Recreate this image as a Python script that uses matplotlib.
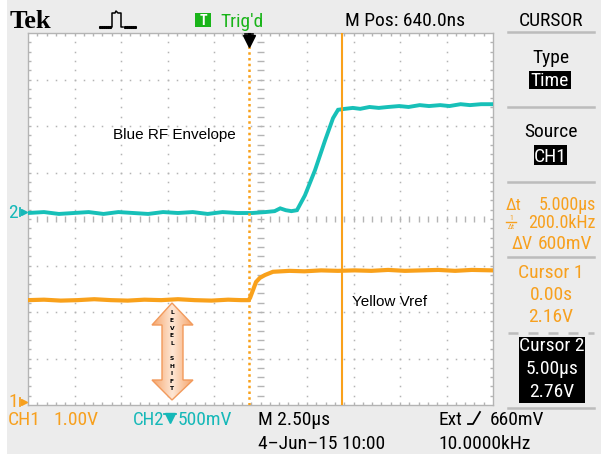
import numpy as np
import matplotlib
matplotlib.use('Agg')
import matplotlib.pyplot as plt
from matplotlib.patches import Rectangle, Polygon
from matplotlib.colors import LinearSegmentedColormap

# scope settings
SEC_DIV = 2.5          # us / div
MPOS = 0.64            # us, horizontal position of screen centre after trigger
CH1_VDIV = 1.0
CH2_VDIV = 0.5
CH1_GND = -3.935       # ground marker, divisions from centre
CH2_GND = 0.129
CURSOR_T = [0.0, 5.0]  # us

# CH2 (cyan, RF envelope), time in us, volts
ch2_t = [-11.86, -11.0, -10.2, -9.4, -8.6, -7.8, -7.0, -6.2, -5.4, -4.6, -3.8, -3.0,
         -2.2, -1.4, -0.6, 0.2, 0.9, 1.4, 1.7, 2.0, 2.3, 2.6, 3.03, 3.57, 4.11, 4.54,
         4.81, 5.18, 5.6, 6.0, 6.5, 7.0, 7.5, 8.1, 8.6, 9.2, 9.7, 10.3, 10.8, 11.4,
         11.9, 12.5, 13.14]
ch2_v = [0.00, 0.01, -0.01, 0.00, 0.01, -0.01, 0.01, 0.00, -0.01, 0.01, 0.00, 0.01,
         -0.01, 0.01, 0.00, 0.00, 0.01, 0.02, 0.05, 0.03, 0.02, 0.03, 0.19, 0.46, 0.78,
         1.02, 1.11, 1.12, 1.13, 1.12, 1.14, 1.13, 1.14, 1.15, 1.14, 1.16, 1.15, 1.16,
         1.15, 1.17, 1.16, 1.17, 1.17]

# CH1 (orange, Vref)
ch1_t = [-11.86, -11.0, -10.1, -9.2, -8.3, -7.4, -6.5, -5.6, -4.7, -3.8, -2.9, -2.0,
         -1.1, -0.4, 0.0, 0.08, 0.24, 0.40, 0.61, 0.88, 1.31, 2.2, 3.0, 3.9, 4.8, 5.7,
         6.6, 7.5, 8.4, 9.3, 10.2, 11.1, 12.0, 13.14]
ch1_v = [2.19, 2.20, 2.18, 2.19, 2.21, 2.19, 2.18, 2.20, 2.19, 2.21, 2.19, 2.18, 2.20,
         2.19, 2.19, 2.24, 2.41, 2.58, 2.67, 2.73, 2.80, 2.82, 2.81, 2.83, 2.82, 2.83,
         2.82, 2.84, 2.82, 2.83, 2.84, 2.82, 2.84, 2.83]

CYAN = "#17c0b8"
ORANGE = "#f9a11b"
TXT_OR = "#f7a01e"
TXT_CY = "#16b8b8"
GREEN = "#19b419"
GRID = "#b4b4b4"
BG = "#ececec"
SC = ['Roboto Condensed', 'Liberation Sans', 'DejaVu Sans']
FS = 14

t_left = MPOS - 5 * SEC_DIV


def tx(t):
    return (np.asarray(t) - t_left) / SEC_DIV


fig = plt.figure(figsize=(6.01, 4.54), dpi=100, facecolor=BG)

# graticule
g = fig.add_axes([28 / 601, (454 - 405) / 454, 465 / 601, 372 / 454], zorder=1)
g.set_facecolor('white')
g.set_xlim(0, 10)
g.set_ylim(-4, 4)
g.set_xticks([])
g.set_yticks([])
for s in g.spines.values():
    s.set_color(GRID)
    s.set_linewidth(1.0)

fine_x = np.arange(1, 50) * 0.2
fine_y = -4 + np.arange(1, 40) * 0.2
for k in range(1, 10):
    if k == 5:
        continue
    g.plot(np.full_like(fine_y, k), fine_y, ls='none', marker='s', ms=1.1, color=GRID, mew=0)
for k in range(-3, 4):
    if k == 0:
        continue
    g.plot(fine_x, np.full_like(fine_x, k), ls='none', marker='s', ms=1.1, color=GRID, mew=0)
tk = 0.075
g.vlines(fine_x, -tk, tk, color=GRID, lw=1)
g.hlines(fine_y, 5 - tk, 5 + tk, color=GRID, lw=1)
g.vlines(fine_x, 4 - tk, 4, color=GRID, lw=1)
g.vlines(fine_x, -4, -4 + tk, color=GRID, lw=1)
g.hlines(fine_y, 0, tk, color=GRID, lw=1)
g.hlines(fine_y, 10 - tk, 10, color=GRID, lw=1)

# traces
g.plot(tx(ch2_t), np.asarray(ch2_v) / CH2_VDIV + CH2_GND, color=CYAN, lw=2.8,
       solid_joinstyle='miter', zorder=3)
g.plot(tx(ch1_t), np.asarray(ch1_v) / CH1_VDIV + CH1_GND, color=ORANGE, lw=3.0,
       solid_joinstyle='miter', zorder=3)

# cursors
g.axvline(tx(CURSOR_T[0]), color=ORANGE, lw=1.8, ls=(0, (1, 1.3)), zorder=4)
g.axvline(tx(CURSOR_T[1]), color=ORANGE, lw=1.5, zorder=4)

# overlay in pixel coordinates
ov = fig.add_axes([0, 0, 1, 1], zorder=3)
ov.patch.set_alpha(0)
ov.axis('off')

ov.add_patch(Rectangle((0, 0), 7, 454, facecolor='white', edgecolor='none', zorder=0))

# trigger marker
ov.plot([249, 249], [34, 39], color='black', lw=2.2)
ov.plot([245, 253], [34, 34], color='black', lw=1.2)
ov.plot([249], [41], marker='v', ms=8, color='black')

# top bar
ov.text(10, 28, "Tek", fontsize=19, fontweight='bold', family='Liberation Serif',
        ha='left', va='baseline')
ov.plot([100, 102, 104, 106, 108, 110], [27] * 6, ls='none', marker='s', ms=1.2, color='black')
ov.plot([111, 112, 112, 115, 116, 118, 121, 121, 123],
        [27, 27, 13, 13, 11, 13, 13, 27, 27], color='black', lw=1.1)
ov.plot([125, 127, 129, 131, 133, 135], [27] * 6, ls='none', marker='s', ms=1.2, color='black')
ov.add_patch(Rectangle((195, 13), 16, 14, facecolor=GREEN, edgecolor='none'))
ov.text(203, 25, "T", color='white', fontsize=10, family=SC, ha='center', va='baseline',
        fontweight='bold')
ov.text(220, 27, "Trig'd", color=GREEN, fontsize=FS, family=SC, ha='left', va='baseline')
ov.text(345, 26, "M Pos: 640.0ns", fontsize=FS, family=SC, ha='left', va='baseline')
ov.text(551, 26, "CURSOR", fontsize=FS, family=SC, ha='center', va='baseline')

# right panel
for yy in [32, 107, 182, 257, 408]:
    ov.plot([508, 594], [yy, yy], color='#bcbcbc', lw=1.8)
ov.plot([508, 594], [333, 333], color='#bcbcbc', lw=1.8, ls=(0, (4, 4)))

ov.text(551, 63, "Type", fontsize=FS, family=SC, ha='center', va='baseline')
ov.add_patch(Rectangle((529, 71), 42, 18, facecolor='black', edgecolor='none'))
ov.text(550, 86, "Time", color='white', fontsize=FS, family=SC, ha='center', va='baseline')
ov.text(551, 137, "Source", fontsize=FS, family=SC, ha='center', va='baseline')
ov.add_patch(Rectangle((534, 145), 33, 20, facecolor='black', edgecolor='none'))
ov.text(550.5, 162, "CH1", color='white', fontsize=FS, family=SC, ha='center',
        va='baseline')

ov.text(506, 210, "\u0394t", color=TXT_OR, fontsize=12.5, family=SC, ha='left',
        va='baseline')
ov.text(596, 210, "5.000\u00b5s", color=TXT_OR, fontsize=13, family=SC, ha='right',
        va='baseline')
ov.text(511, 220.5, "1", color=TXT_OR, fontsize=5.5, family=SC, ha='center', va='baseline')
ov.plot([506, 516], [222, 222], color=TXT_OR, lw=1)
ov.text(511, 229, "\u0394t", color=TXT_OR, fontsize=5.5, family=SC, ha='center',
        va='baseline')
ov.text(596, 228, "200.0kHz", color=TXT_OR, fontsize=13, family=SC, ha='right',
        va='baseline')
ov.text(512, 249, "\u0394V", color=TXT_OR, fontsize=13, family=SC, ha='left',
        va='baseline')
ov.text(592, 249, "600mV", color=TXT_OR, fontsize=FS, family=SC, ha='right', va='baseline')
ov.text(551, 278, "Cursor 1", color=TXT_OR, fontsize=FS, family=SC, ha='center',
        va='baseline')
ov.text(551, 300, "0.00s", color=TXT_OR, fontsize=FS, family=SC, ha='center', va='baseline')
ov.text(551, 322, "2.16V", color=TXT_OR, fontsize=FS, family=SC, ha='center', va='baseline')
ov.add_patch(Rectangle((519, 337), 66, 66, facecolor='black', edgecolor='none'))
ov.text(552, 351, "Cursor 2", color='white', fontsize=FS, family=SC, ha='center',
        va='baseline')
ov.text(552, 374, "5.00\u00b5s", color='white', fontsize=FS, family=SC, ha='center',
        va='baseline')
ov.text(552, 397, "2.76V", color='white', fontsize=FS, family=SC, ha='center',
        va='baseline')

# bottom bar
ov.text(8, 425, "CH1", color=TXT_OR, fontsize=FS, family=SC, ha='left', va='baseline')
ov.text(53, 425, "1.00V", color=TXT_OR, fontsize=FS, family=SC, ha='left', va='baseline')
ov.text(133, 425, "CH2", color=TXT_CY, fontsize=13.5, family=SC, ha='left', va='baseline')
ov.plot([164, 176], [414, 414], color=TXT_CY, lw=1.3)
ov.plot([170], [418], marker='v', ms=6.5, color=TXT_CY)
ov.text(178, 425, "500mV", color=TXT_CY, fontsize=FS, family=SC, ha='left', va='baseline')
ov.text(258, 425, "M 2.50\u00b5s", fontsize=FS, family=SC, ha='left', va='baseline')
ov.text(438, 425, "Ext", fontsize=FS, family=SC, ha='left', va='baseline')
ov.plot([468, 473, 480], [424, 424, 412], color='black', lw=1.3)
ov.text(490, 425, "660mV", fontsize=FS, family=SC, ha='left', va='baseline')
ov.text(258, 449, "4\u2013Jun\u201315 10:00", fontsize=FS, family=SC, ha='left',
        va='baseline')
ov.text(438, 449, "10.0000kHz", fontsize=FS, family=SC, ha='left', va='baseline')

# ground markers
ov.text(8, 218, "2", color=TXT_CY, fontsize=FS, family=SC, ha='left', va='baseline')
ov.plot([20, 20], [208, 216], color=TXT_CY, lw=1.3)
ov.plot([24], [212], marker='>', ms=5, color=TXT_CY)
ov.text(8, 407, "1", color=TXT_OR, fontsize=FS, family=SC, ha='left', va='baseline')
ov.plot([20, 20], [398, 406], color=TXT_OR, lw=1.3)
ov.plot([24], [402], marker='>', ms=5, color=TXT_OR)

# annotations
ov.text(113, 139, "Blue RF Envelope", fontsize=11, family='Liberation Sans', ha='left',
        va='baseline')
ov.text(352, 306, "Yellow Vref", fontsize=11, family='Liberation Sans', ha='left',
        va='baseline')

# level shift arrow
pts = [(172, 303), (193, 325), (183, 325), (183, 380), (193, 380), (172, 400),
       (152, 380), (162, 380), (162, 325), (152, 325)]
arrow = Polygon(pts, closed=True, facecolor='none', edgecolor='#f29a5c', lw=1.0, zorder=6)
ov.add_patch(arrow)
fill = Polygon(pts, closed=True, facecolor='none', edgecolor='none')
ov.add_patch(fill)
grad = 1 - np.abs(np.linspace(-1, 1, 64))
cmap = LinearSegmentedColormap.from_list('peach', ['#f5a56c', '#fee6d3'])
im = ov.imshow(grad[None, :], extent=(152, 193, 400, 303), cmap=cmap, aspect='auto',
               zorder=5, interpolation='bilinear')
im.set_clip_path(fill)
for i, ch in enumerate("LEVEL SHIFT"):
    if ch != ' ':
        ov.text(172, 313 + i * 7.6, ch, fontsize=4.3, fontweight='bold', ha='center',
                va='center', zorder=7)

ov.set_xlim(0, 601)
ov.set_ylim(454, 0)

fig.savefig('out.png', dpi=100, facecolor=BG)
